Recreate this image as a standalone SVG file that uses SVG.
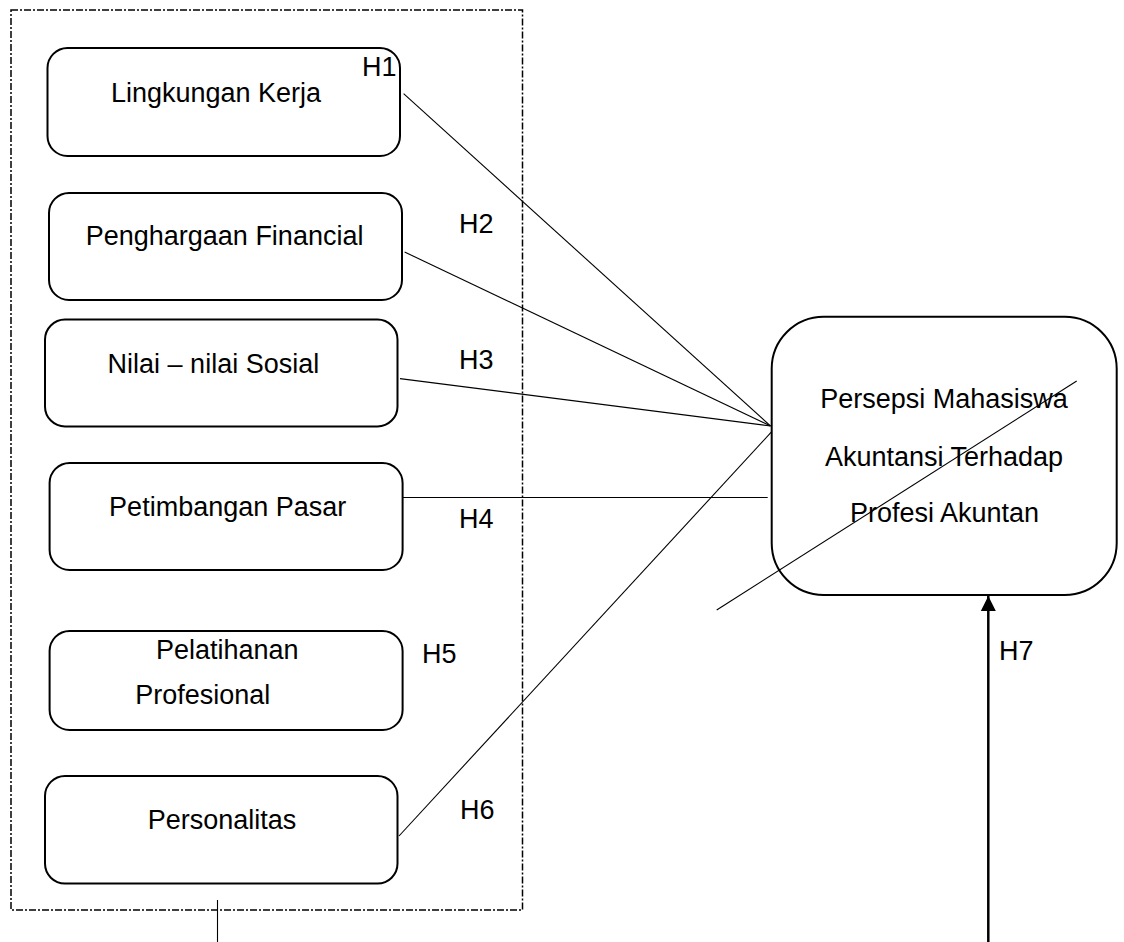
<svg xmlns="http://www.w3.org/2000/svg" width="1124" height="942" viewBox="0 0 1124 942">
<defs>
<style>
.box{fill:#fff;stroke:#000;stroke-width:2}
.t{font-family:"Liberation Sans",Arial,sans-serif;font-size:27px;fill:#000}
.m{text-anchor:middle}
.ln{stroke:#000;stroke-width:1.1;fill:none}
</style>
<marker id="ah" markerWidth="16" markerHeight="16" refX="15" refY="8" orient="auto" markerUnits="userSpaceOnUse" viewBox="0 0 16 16">
<path d="M0,0.5 L15,8 L0,15.5 Z" fill="#000"/>
</marker>
</defs>
<rect width="1124" height="942" fill="#fff"/>
<rect id="group-frame" x="11" y="10" width="511.5" height="900" fill="none" stroke="#000" stroke-width="1.5" stroke-dasharray="7 2 2 2"/>
<g id="n1"><rect class="box" x="47.5" y="48" width="352.5" height="108" rx="20"/><text class="t m" x="216" y="102">Lingkungan Kerja</text></g>
<g id="n2"><rect class="box" x="49" y="193" width="353" height="107" rx="20"/><text class="t m" x="224.6" y="245">Penghargaan Financial</text></g>
<g id="n3"><rect class="box" x="45" y="319.6" width="352.5" height="106.8" rx="20"/><text class="t m" x="213.4" y="372.5">Nilai – nilai Sosial</text></g>
<g id="n4"><rect class="box" x="49.6" y="463" width="353" height="107" rx="20"/><text class="t m" x="227.7" y="516">Petimbangan Pasar</text></g>
<g id="n5"><rect class="box" x="49.6" y="631" width="353" height="99" rx="20"/><text class="t m" x="227.3" y="659">Pelatihanan</text><text class="t m" x="202.7" y="704">Profesional</text></g>
<g id="n6"><rect class="box" x="45" y="776" width="352.5" height="107.6" rx="20"/><text class="t m" x="222" y="829">Personalitas</text></g>
<g id="n7"><rect class="box" x="771.7" y="316.7" width="345" height="278.3" rx="52"/><text class="t m" x="944" y="408">Persepsi Mahasiswa</text><text class="t m" x="944" y="465.7">Akuntansi Terhadap</text><text class="t m" x="944.5" y="521.7">Profesi Akuntan</text></g>
<g id="connectors">
<line class="ln" x1="403.6" y1="93.6" x2="770.5" y2="426"/>
<line class="ln" x1="404.6" y1="252" x2="770.5" y2="426"/>
<line class="ln" x1="400" y1="378.6" x2="770.5" y2="426"/>
<line class="ln" x1="402.5" y1="497.5" x2="767.7" y2="497.5"/>
<line class="ln" x1="399" y1="836" x2="771.7" y2="431.7"/>
<line class="ln" x1="716.7" y1="610" x2="1076.7" y2="381"/>
<line class="ln" x1="217.5" y1="900" x2="217.5" y2="942"/>
<line x1="988.3" y1="942" x2="988.3" y2="596" stroke="#000" stroke-width="2.5" marker-end="url(#ah)"/>
</g>
<g id="labels">
<text class="t" x="362" y="76">H1</text>
<text class="t" x="459" y="233">H2</text>
<text class="t" x="459" y="369">H3</text>
<text class="t" x="459" y="527.5">H4</text>
<text class="t" x="422" y="663">H5</text>
<text class="t" x="460" y="819">H6</text>
<text class="t" x="999" y="660">H7</text>
</g>
</svg>
